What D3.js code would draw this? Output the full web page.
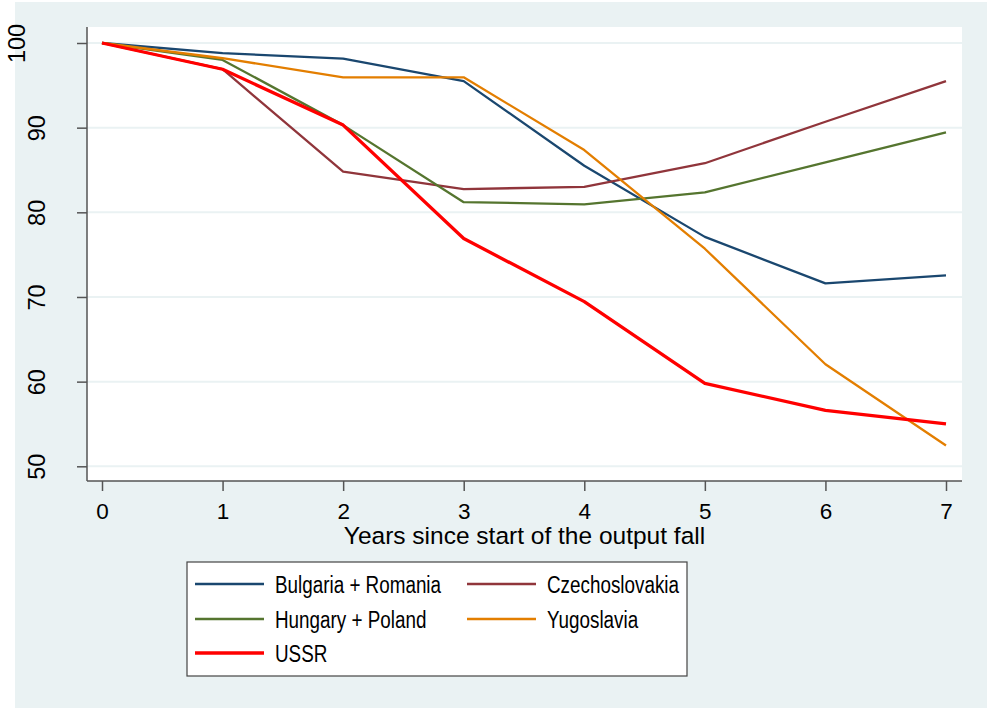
<!DOCTYPE html>
<html>
<head>
<meta charset="utf-8">
<script src="https://cdn.jsdelivr.net/npm/d3@7"></script>
<style>
  html, body { margin: 0; padding: 0; background: #ffffff; }
  svg { display: block; }
</style>
</head>
<body>
<svg id="chart" width="987" height="711"></svg>
<script>
// ---- data ----
const years = [0, 1, 2, 3, 4, 5, 6, 7];
const bulgariaRomania = [100, 98.8, 98.15, 95.5, 85.5, 77.1, 71.6, 72.55];
const czechoslovakia  = [100, 96.9, 84.8, 82.75, 83.0, 85.8, 90.7, 95.5];
const hungaryPoland   = [100, 98.0, 90.3, 81.2, 80.95, 82.35, 85.9, 89.45];
const yugoslavia      = [100, 98.2, 95.95, 95.95, 87.35, 75.7, 62.05, 52.45];
const ussr            = [100, 96.9, 90.3, 76.9, 69.45, 59.8, 56.6, 55.0];
const seriesNames = ["Bulgaria + Romania", "Czechoslovakia", "Hungary + Poland", "Yugoslavia", "USSR"];
const yTicks = [50, 60, 70, 80, 90, 100];
const xTicks = [0, 1, 2, 3, 4, 5, 6, 7];
const xTitle = "Years since start of the output fall";

const seriesValues = [bulgariaRomania, czechoslovakia, hungaryPoland, yugoslavia, ussr];
const colors = ["#1a476f", "#90353b", "#55752f", "#e37e00", "#ff0000"];
const widths = [2.3, 2.3, 2.3, 2.3, 3.3];

const svg = d3.select("#chart");

// outer background
svg.append("rect").attr("x", 15).attr("y", 2).attr("width", 972).attr("height", 706)
  .attr("fill", "#eaf2f3");

const plot = { left: 87, right: 962, top: 27, bottom: 481 };
svg.append("rect").attr("x", plot.left).attr("y", plot.top)
  .attr("width", plot.right - plot.left).attr("height", plot.bottom - plot.top)
  .attr("fill", "#ffffff");

const x = d3.scaleLinear().domain([0, 7]).range([102, 946]);
const y = d3.scaleLinear().domain([50, 100]).range([466.3, 43]);

// gridlines
svg.append("g").selectAll("line").data(yTicks).join("line")
  .attr("x1", plot.left).attr("x2", plot.right)
  .attr("y1", d => y(d)).attr("y2", d => y(d))
  .attr("stroke", "#eaf2f3").attr("stroke-width", 2);

// y axis
const yAxis = d3.axisLeft(y).tickValues(yTicks).tickSize(10).tickPadding(0).tickFormat(d3.format("d"));
const gy = svg.append("g").attr("transform", `translate(${plot.left},0)`).call(yAxis);
gy.select(".domain").remove();
gy.append("line").attr("x1", 0).attr("x2", 0).attr("y1", plot.top).attr("y2", plot.bottom)
  .attr("stroke", "#555").attr("stroke-width", 1.5);
gy.selectAll(".tick line").attr("stroke", "#555").attr("stroke-width", 1.5);
gy.selectAll(".tick text")
  .attr("font-family", "Liberation Sans, Arial, sans-serif")
  .attr("font-size", 23.5).attr("fill", "#000")
  .attr("text-anchor", "middle")
  .attr("transform", function(d) { const bx = String(d).length > 2 ? -62 : -42; return `translate(${bx},0) rotate(-90)`; })
  .attr("x", 0).attr("y", 0).attr("dy", 0);

// x axis
const xAxis = d3.axisBottom(x).tickValues(xTicks).tickSize(10).tickPadding(0).tickFormat(d3.format("d"));
const gx = svg.append("g").attr("transform", `translate(0,${plot.bottom})`).call(xAxis);
gx.select(".domain").remove();
gx.append("line").attr("x1", plot.left).attr("x2", plot.right).attr("y1", 0).attr("y2", 0)
  .attr("stroke", "#555").attr("stroke-width", 1.5);
gx.selectAll(".tick line").attr("stroke", "#555").attr("stroke-width", 1.5);
gx.selectAll(".tick text")
  .attr("font-family", "Liberation Sans, Arial, sans-serif")
  .attr("font-size", 22.5).attr("fill", "#000")
  .attr("y", 37.5).attr("dy", 0);

// x title
svg.append("text").attr("x", (plot.left + plot.right) / 2).attr("y", 544)
  .attr("text-anchor", "middle")
  .attr("font-family", "Liberation Sans, Arial, sans-serif")
  .attr("font-size", 24.5).attr("fill", "#000")
  .text(xTitle);

// lines
const line = d3.line().x((d, i) => x(years[i])).y(d => y(d));
svg.append("g").selectAll("path").data(seriesValues).join("path")
  .attr("d", d => line(d))
  .attr("fill", "none")
  .attr("stroke", (d, i) => colors[i])
  .attr("stroke-width", (d, i) => widths[i])
  .attr("stroke-linejoin", "round");

// legend
const lg = svg.append("g");
lg.append("rect").attr("x", 187).attr("y", 562).attr("width", 500).attr("height", 114)
  .attr("fill", "#ffffff").attr("stroke", "#444").attr("stroke-width", 1.2);
const colX = [195, 467];
const rowY = [584, 619, 653];
seriesNames.forEach((name, i) => {
  const cx = colX[i % 2], cy = rowY[Math.floor(i / 2)];
  lg.append("line").attr("x1", cx).attr("x2", cx + 69).attr("y1", cy).attr("y2", cy)
    .attr("stroke", colors[i]).attr("stroke-width", widths[i]);
  lg.append("text")
    .attr("transform", `translate(${cx + 80},${cy + 8.5}) scale(0.82,1)`)
    .attr("font-family", "Liberation Sans, Arial, sans-serif")
    .attr("font-size", 23).attr("fill", "#000")
    .text(name);
});
</script>
</body>
</html>
